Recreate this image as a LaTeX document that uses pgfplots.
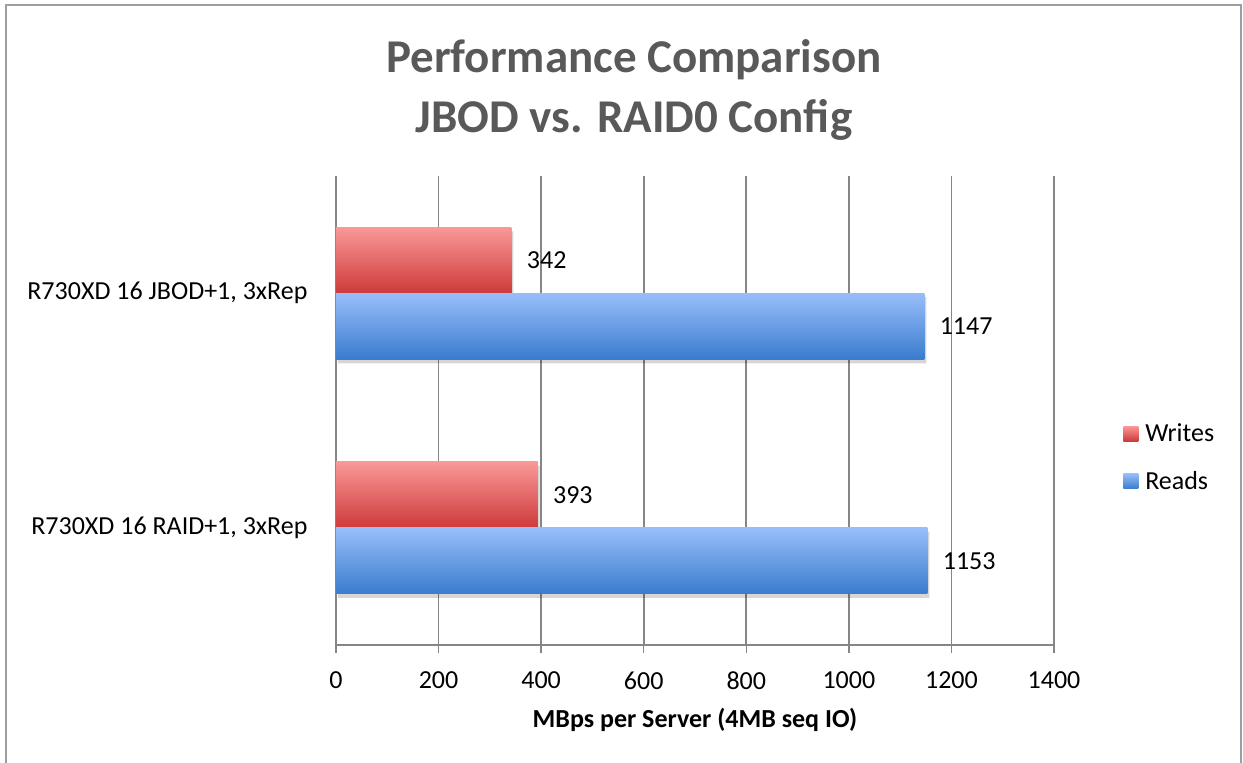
\documentclass[border=0pt]{standalone}
\usepackage{pgfplots}
\pgfplotsset{compat=1.18}
\usepackage{fontspec}
\setmainfont{Carlito}
\definecolor{gridgray}{RGB}{134,134,134}
\definecolor{titlegray}{RGB}{89,89,89}
\definecolor{wtop}{RGB}{250,152,152}
\definecolor{wbot}{RGB}{206,58,58}
\definecolor{rtop}{RGB}{152,190,250}
\definecolor{rbot}{RGB}{58,124,206}
\begin{document}
\begin{tikzpicture}
\path[use as bounding box] (0pt,0pt) rectangle (1243pt,763pt);
\draw[gridgray!80, line width=2pt] (6pt,0pt) -- (6pt,758pt) -- (1241pt,758pt) -- (1241pt,0pt);
\node[font=\fontsize{47}{56}\selectfont\bfseries, text=titlegray, anchor=base] at (634pt,690pt) {Performance Comparison};
\node[font=\fontsize{47}{56}\selectfont\bfseries, text=titlegray, anchor=base] at (634pt,630pt) {JBOD vs. RAID0 Config};
\begin{axis}[
  at={(336pt,118pt)}, anchor=south west,
  scale only axis, width=718pt, height=469pt,
  xmin=0, xmax=1400, ymin=-0.5, ymax=1.5,
  xtick={0,200,...,1400},
  ytick={0,1},
  yticklabels={{R730XD 16 RAID+1, 3xRep},{R730XD 16 JBOD+1, 3xRep}},
  y tick style={draw=none},
  extra y ticks={-0.5,0.5,1.5},
  extra y tick labels={},
  extra y tick style={major tick length=8pt, tick align=outside, tick style={draw=gridgray, line width=1.5pt}},
  x tick style={draw=gridgray, line width=1.5pt},
  major tick length=8pt, tick align=outside,
  xmajorgrids, major grid style={draw=gridgray, line width=1.8pt},
  axis x line*=bottom, axis y line*=left,
  axis line style={draw=gridgray, line width=1.8pt},
  tick label style={font=\fontsize{26}{31}\selectfont},
  /pgf/number format/assume math mode=true,
  /pgf/number format/1000 sep={},
  xticklabel style={yshift=-15pt},
  yticklabel style={xshift=-17pt},
  xlabel={\textbf{MBps per Server (4MB seq IO)}},
  xlabel style={font=\fontsize{26}{31}\selectfont, yshift=-12pt},
  xbar, bar width=0.2815,
  nodes near coords style={font=\fontsize{26}{31}\selectfont, anchor=west, xshift=12pt},
  legend style={at={(1.092,0.40)}, anchor=west, draw=none, fill=none,
    font=\fontsize{26}{31}\selectfont, row sep=24pt},
  legend cell align=left,
  legend image code/.code={\path[#1] (0pt,-7.5pt) rectangle (15pt,7.5pt); \path (0pt,0pt) -- (20pt,0pt);},
  clip=false,
]
% soft shadows beneath the bars
\addplot[draw=none, fill=black, fill opacity=0.16, bar shift=0.1236, forget plot, transform canvas={xshift=2pt}]
  coordinates {(342,1) (393,0)};
\addplot[draw=none, fill=black, fill opacity=0.16, bar shift=-0.1578, forget plot, transform canvas={xshift=2pt}]
  coordinates {(1147,1) (1153,0)};
% bars
\addplot[draw=none, top color=wtop, bottom color=wbot, bar shift=0.1407, nodes near coords]
  coordinates {(342,1)};
\addlegendentry{Writes}
\addplot[draw=none, top color=rtop, bottom color=rbot, bar shift=-0.1407, nodes near coords]
  coordinates {(1147,1)};
\addlegendentry{Reads}
\addplot[draw=none, top color=wtop, bottom color=wbot, bar shift=0.1407, nodes near coords, forget plot]
  coordinates {(393,0)};
\addplot[draw=none, top color=rtop, bottom color=rbot, bar shift=-0.1407, nodes near coords, forget plot]
  coordinates {(1153,0)};
\end{axis}
\end{tikzpicture}
\end{document}
